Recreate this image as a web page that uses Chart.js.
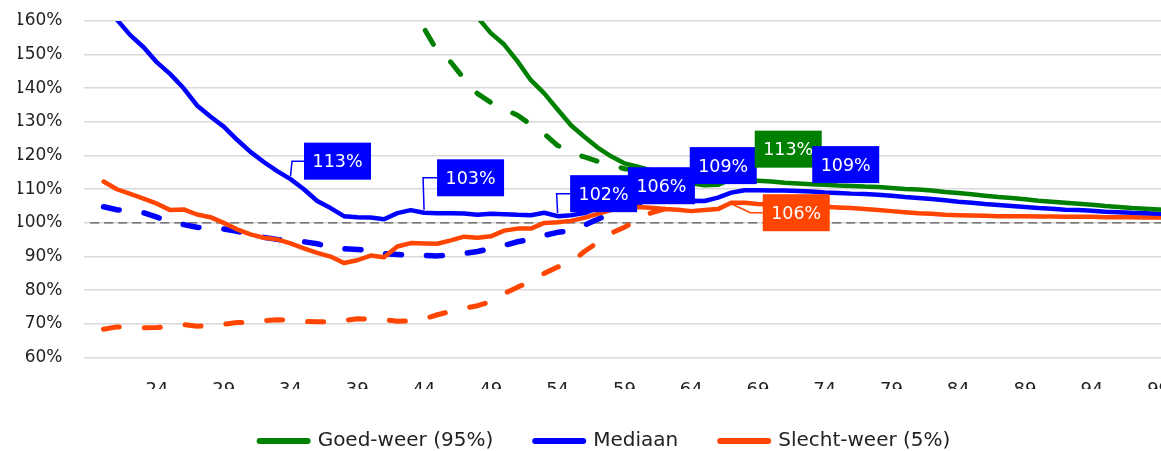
<!DOCTYPE html>
<html>
<head>
<meta charset="utf-8">
<script src="https://cdn.jsdelivr.net/npm/chart.js@4/dist/chart.umd.min.js"></script>
<style>
  html, body { margin: 0; padding: 0; background: #fff; overflow: hidden; }
  canvas { display: block; }
</style>
</head>
<body>
<canvas id="c" width="1192" height="451"></canvas>
<script>
// Leeftijden (categorie-as)
const ages = [19,20,21,22,23,24,25,26,27,28,29,30,31,32,33,34,35,36,37,38,39,40,
  41,42,43,44,45,46,47,48,49,50,51,52,53,54,55,56,57,58,59,60,61,62,63,64,65,66,
  67,68,69,70,71,72,73,74,75,76,77,78,79,80,81,82,83,84,85,86,87,88,89,90,91,92,
  93,94,95,96,97,98,99,100,101];

// Goed-weer (95%), doorgetrokken lijn
const goedWeer = [null,null,null,null,null,null,null,null,null,null,null,null,null,null,null,null,null,null,null,null,null,null,
  null,null,null,null,null,168.0,164.5,161.1,156.4,153.0,148.0,142.4,138.5,133.7,129.0,125.6,122.4,119.8,117.7,116.7,115.6,114.3,113.0,111.8,111.2,111.3,
  113,112.7,112.5,112.3,111.9,111.7,111.5,111.3,111.1,111.0,110.8,110.7,110.4,110.1,109.9,109.6,109.2,108.9,108.5,108.1,107.7,107.4,107.0,106.6,106.3,106.0,
  105.7,105.4,105.0,104.7,104.4,104.2,104.0,103.8,103.7];

// Mediaan, doorgetrokken lijn
const mediaan = [null,165.0,160.4,155.8,152.2,147.7,144.2,140.0,134.9,131.6,128.6,124.7,121.1,118.1,115.4,113,110.0,106.5,104.4,102.0,101.7,101.6,
  101.1,102.9,103.8,103,102.9,102.9,102.8,102.4,102.7,102.6,102.4,102.3,103.0,102,102.3,102.9,104.4,105.3,106,106.4,106.3,106.3,106.4,106.6,106.5,107.5,
  109,109.7,109.7,109.6,109.6,109.5,109.3,109,108.9,108.7,108.6,108.4,108.1,107.7,107.4,107.1,106.7,106.3,106.0,105.6,105.3,105.0,104.7,104.4,104.2,103.9,
  103.8,103.6,103.3,103.2,103.0,102.9,102.7,102.6,102.5];

// Slecht-weer (5%), doorgetrokken lijn
const slechtWeer = [null,112.3,110.0,108.6,107.2,105.7,103.8,104.0,102.5,101.7,100.0,98.1,96.6,95.6,95.1,93.9,92.4,91.1,90.0,88.1,88.9,90.3,
  89.8,93.0,94.0,93.9,93.8,94.8,95.9,95.6,96.0,97.7,98.3,98.3,100.0,100.2,100.6,101.5,102.7,103.8,104.4,104.7,104.5,104.1,103.9,103.5,103.8,104.1,
  106,106.0,105.6,105.4,105.3,105.1,105.0,104.8,104.6,104.4,104.1,103.8,103.5,103.2,102.9,102.7,102.4,102.3,102.2,102.1,102.0,102.0,102.0,101.9,101.9,101.8,
  101.8,101.8,101.7,101.7,101.7,101.6,101.6,101.6,101.6];

// Gestippelde varianten (lopen tot ze samenvallen met de doorgetrokken lijn)
const goedWeerStip = [null,null,null,null,null,null,null,null,null,null,null,null,null,null,null,null,null,null,null,null,null,null,
  null,166.0,161.0,157.8,151.0,147.8,142.8,138.4,135.8,133.8,132.0,129.2,126.5,123.0,121.0,119.6,118.3,117.2,116.1,115.6,115.6];

const mediaanStip = [null,104.8,103.9,103.5,103.0,101.7,100.2,99.5,98.7,98.3,98.2,97.5,96.6,95.7,95.1,94.7,94.4,93.8,92.7,92.3,92.1,91.9,
  90.9,90.6,90.3,90.3,90.2,90.5,90.9,91.5,92.4,93.3,94.4,95.1,96.3,97.2,97.7,99.3,101.1,102.7,104.4,105.6,106.3];

const slechtWeerStip = [null,68.4,69.1,69.0,68.8,68.9,69.3,69.8,69.3,69.4,69.9,70.4,70.4,70.9,71.2,71.1,70.7,70.6,70.6,71.0,71.5,71.4,
  71.2,70.8,70.9,71.5,72.7,73.7,74.6,75.4,76.6,79.0,80.9,82.6,85.0,86.9,88.2,91.5,94.2,96.9,98.7,100.9,103.0,104.1];

// Y-as
const yTicks = [60,70,80,90,100,110,120,130,140,150,160];
const referenceLevel = 100;

const GREEN = '#008000', BLUE = '#0000ff', ORANGE = '#ff4500';
const FONT = 'DejaVu Sans';

// Plaatsing van de waardelabels t.o.v. hun datapunt
const labelPlacement = [
  { ds: 1, age: 34, dx: 47,  dy: -18, leader: 'elbow', kx: 1.5 },
  { ds: 1, age: 44, dx: 46.5, dy: -35, leader: 'elbow', kx: -1 },
  { ds: 1, age: 54, dx: 46,  dy: -22.5, leader: 'elbow', kx: -1 },
  { ds: 1, age: 59, dx: 37,  dy: -17 },
  { ds: 1, age: 67, dx: -8,  dy: -27 },
  { ds: 0, age: 67, dx: 57,  dy: -30 },
  { ds: 1, age: 74, dx: 21,  dy: -28 },
  { ds: 2, age: 67, dx: 65,  dy: 10, leader: 'diag' }
];

const referenceLine = {
  id: 'referenceLine',
  beforeDatasetsDraw(chart) {
    const { ctx, chartArea, scales } = chart;
    const y = scales.y.getPixelForValue(referenceLevel);
    const x0 = scales.x.getPixelForValue(0);
    ctx.save();
    ctx.strokeStyle = '#595959';
    ctx.lineWidth = 1.3;
    ctx.setLineDash([9, 5]);
    ctx.beginPath();
    ctx.moveTo(x0, y);
    ctx.lineTo(chartArea.right, y);
    ctx.stroke();
    ctx.restore();
  }
};

const valueLabels = {
  id: 'valueLabels',
  afterDatasetsDraw(chart) {
    const ctx = chart.ctx;
    const W = 67, H = 37;
    labelPlacement.forEach(p => {
      const ds = chart.data.datasets[p.ds];
      const idx = ages.indexOf(p.age);
      const pt = chart.getDatasetMeta(p.ds).data[idx];
      const v = ds.data[idx];
      const cx = pt.x + p.dx, cy = pt.y + p.dy;
      const color = ds.borderColor;
      ctx.save();
      if (p.leader) {
        ctx.strokeStyle = color;
        ctx.lineWidth = 1.5;
        ctx.beginPath();
        if (p.leader === 'elbow') {
          ctx.moveTo(cx - W / 2, cy);
          ctx.lineTo(pt.x + p.kx, cy);
          ctx.lineTo(pt.x, pt.y - 3);
        } else {
          ctx.moveTo(pt.x, pt.y + 1);
          ctx.lineTo(pt.x + 19, cy);
          ctx.lineTo(cx - W / 2, cy);
        }
        ctx.stroke();
      }
      ctx.fillStyle = color;
      ctx.fillRect(cx - W / 2, cy - H / 2, W, H);
      ctx.fillStyle = '#ffffff';
      ctx.font = '17.5px "' + FONT + '"';
      ctx.textAlign = 'center';
      ctx.textBaseline = 'middle';
      ctx.fillText(Math.round(v) + '%', cx, cy + 1.5);
      ctx.restore();
    });
  }
};

function lineSet(label, data, color, dashed, width, order) {
  return {
    label, data,
    borderColor: color,
    backgroundColor: color,
    borderWidth: width,
    borderDash: dashed ? [16, 25] : [],
    borderCapStyle: 'round',
    borderJoinStyle: 'round',
    pointRadius: 0,
    pointHoverRadius: 0,
    tension: 0,
    spanGaps: false,
    clip: 0,
    order
  };
}

new Chart(document.getElementById('c'), {
  type: 'line',
  data: {
    labels: ages.map(String),
    datasets: [
      lineSet('Goed-weer (95%)', goedWeer, GREEN, false, 4.5, 1),
      lineSet('Mediaan', mediaan, BLUE, false, 4.5, 1),
      lineSet('Slecht-weer (5%)', slechtWeer, ORANGE, false, 4.5, 1),
      lineSet('Goed-weer (95%) variant', goedWeerStip, GREEN, true, 5, 2),
      lineSet('Mediaan variant', mediaanStip, BLUE, true, 5.5, 2),
      lineSet('Slecht-weer (5%) variant', slechtWeerStip, ORANGE, true, 5, 2)
    ]
  },
  options: {
    responsive: false,
    animation: false,
    devicePixelRatio: 1,
    layout: { padding: { left: 18, right: 0, top: 21, bottom: -10 } },
    plugins: {
      tooltip: { enabled: false },
      legend: {
        position: 'bottom',
        labels: {
          usePointStyle: true,
          pointStyleWidth: 48,
          padding: 42,
          color: '#222',
          font: { family: FONT, size: 20 },
          generateLabels(chart) {
            return chart.data.datasets.slice(0, 3).map((d, i) => ({
              text: d.label,
              fillStyle: d.borderColor,
              strokeStyle: d.borderColor,
              fontColor: '#222',
              lineWidth: 6,
              lineCap: 'round',
              pointStyle: 'line',
              hidden: false,
              datasetIndex: i
            }));
          }
        }
      }
    },
    scales: {
      x: {
        type: 'category',
        offset: true,
        grid: { display: false, drawTicks: false },
        border: { display: false },
        ticks: {
          autoSkip: false,
          maxRotation: 0,
          padding: 22,
          color: '#222',
          font: { family: FONT, size: 18 },
          callback(value) {
            const a = Number(this.getLabelForValue(value));
            return a >= 24 && a <= 99 && (a - 24) % 5 === 0 ? String(a) : '';
          }
        },
        afterFit(scale) {
          scale.height = 31.5;
          scale.paddingLeft = 0;
          scale.paddingRight = 0;
        }
      },
      y: {
        min: yTicks[0],
        max: yTicks[yTicks.length - 1],
        afterBuildTicks(scale) { scale.ticks = yTicks.map(v => ({ value: v })); },
        grid: { color: '#d9d9d9', lineWidth: 1.6, drawTicks: false },
        border: { display: false },
        ticks: {
          padding: 21,
          color: '#222',
          font: { family: FONT, size: 17 },
          callback: v => v + '%'
        },
        afterFit(scale) {
          scale.width = 65.5;
          scale.paddingTop = 0;
          scale.paddingBottom = 0;
        }
      }
    }
  },
  plugins: [referenceLine, valueLabels]
});
</script>
</body>
</html>
